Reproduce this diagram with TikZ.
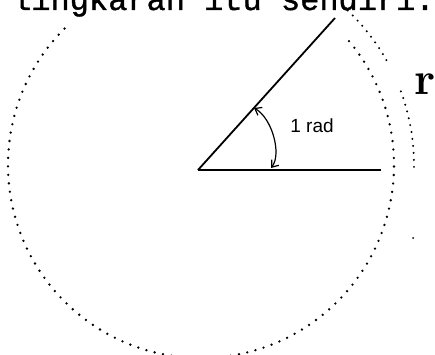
\documentclass[tikz,border=0pt]{standalone}
\usepackage{fontspec}
\newfontfamily\monofont[FakeBold=1.2]{Liberation Mono}
\newfontfamily\labelfont{Liberation Sans}
\usetikzlibrary{arrows.meta}
\begin{document}
\begin{tikzpicture}[x=1pt,y=1pt,
  dotmain/.style={line width=2.6pt,line cap=round,dash pattern=on 0pt off 8.5pt},
  dotouter/.style={line width=2.2pt,line cap=round,dash pattern=on 0pt off 7pt},
  solidline/.style={line width=1.8pt},
  arrowline/.style={line width=1.2pt,{Straight Barb[length=6pt,width=9pt]}-{Straight Barb[length=6pt,width=9pt]}},
  txt/.style={inner sep=0pt}]
\useasboundingbox (0,0) rectangle (435,354);
\coordinate (O) at (201,189);
\coordinate (V) at (198,184);
\coordinate (H) at (381,184);
\coordinate (S) at (335,336);
\coordinate (A1) at (254,246);
\coordinate (A2) at (271,186);
% main circle
\draw[dotmain] ([shift={(135:193)}]O) arc[start angle=135,end angle=402,radius=193];
% outer arc of length r
\draw[dotouter] ([shift={(-0.5:213)}]O) arc[start angle=-0.5,end angle=22,radius=213];
\draw[dotouter] ([shift={(29.5:213)}]O) arc[start angle=29.5,end angle=48,radius=213];
% radii
\draw[solidline] (V) -- (H);
\draw[solidline] (V) -- (S);
% angle arrow
\draw[arrowline] (A1) .. controls (272,236) and (282,200) .. (A2);
% texts
\node[txt,anchor=base west,font=\monofont\fontsize{32}{32}\selectfont] (title) at (12,344) {lingkaran itu sendiri.};
\node[txt,font=\labelfont\fontsize{19}{19}\selectfont] (lab) at (312,228) {1 rad};
\node[txt,font=\bfseries\fontsize{46}{46}\selectfont] (rlab) at (425,270) {r};
\fill (413,116) circle (1pt);
\end{tikzpicture}
\end{document}
